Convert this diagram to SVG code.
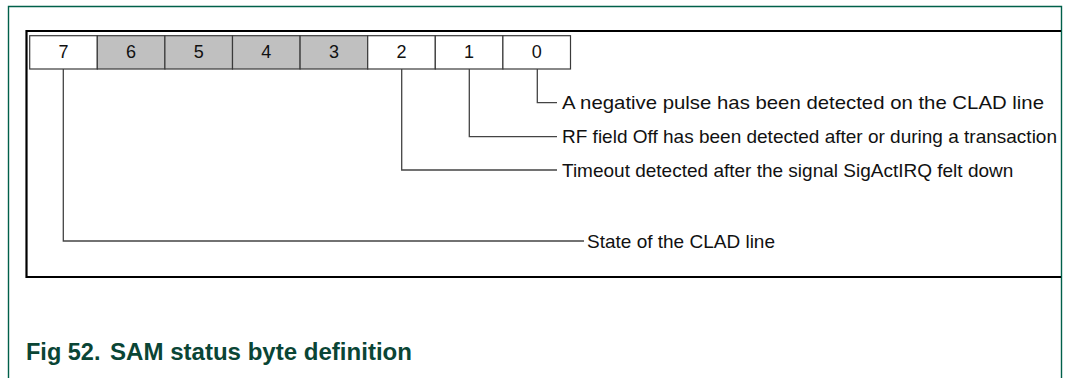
<svg xmlns="http://www.w3.org/2000/svg" width="1069" height="378" viewBox="0 0 1069 378">
<style>
.frame{fill:none;stroke:#00604a;stroke-width:1.4}
.box{fill:none;stroke:#000;stroke-width:2.2}
.cell{stroke:#3a3a3a;stroke-width:1.2}
.w{fill:#fff}
.g{fill:#c0c0c0}
.dig{font-family:"Liberation Sans",Arial,sans-serif;font-size:18px;fill:#111;text-anchor:middle}
.lbl{font-family:"Liberation Sans",Arial,sans-serif;font-size:19px;fill:#111}
.conn{fill:none;stroke:#444;stroke-width:1.3}
.cap{font-family:"Liberation Sans",Arial,sans-serif;font-size:23.5px;font-weight:bold;fill:#0a4535}
</style>
<rect width="1069" height="378" fill="#fff"/>
<path class="frame" d="M8.5,378 V6.5 H1061.5 V378"/>
<path class="box" d="M1061,31 H26.5 V277 H1061"/>
<g id="bit7"><rect class="cell w" x="29.7" y="35.7" width="67.6" height="33.3"/><text class="dig" x="63.5" y="58.3">7</text></g>
<g id="bit6"><rect class="cell g" x="97.3" y="35.7" width="67.6" height="33.3"/><text class="dig" x="131.1" y="58.3">6</text></g>
<g id="bit5"><rect class="cell g" x="164.9" y="35.7" width="67.6" height="33.3"/><text class="dig" x="198.7" y="58.3">5</text></g>
<g id="bit4"><rect class="cell g" x="232.5" y="35.7" width="67.6" height="33.3"/><text class="dig" x="266.3" y="58.3">4</text></g>
<g id="bit3"><rect class="cell g" x="300.1" y="35.7" width="67.6" height="33.3"/><text class="dig" x="333.9" y="58.3">3</text></g>
<g id="bit2"><rect class="cell w" x="367.7" y="35.7" width="67.6" height="33.3"/><text class="dig" x="401.5" y="58.3">2</text></g>
<g id="bit1"><rect class="cell w" x="435.3" y="35.7" width="67.6" height="33.3"/><text class="dig" x="469.1" y="58.3">1</text></g>
<g id="bit0"><rect class="cell w" x="502.9" y="35.7" width="67.6" height="33.3"/><text class="dig" x="536.7" y="58.3">0</text></g>
<g id="connectors">
<path class="conn" d="M537.3,69 V102.7 H557"/>
<path class="conn" d="M469.3,69 V136.7 H557"/>
<path class="conn" d="M401.7,69 V170 H557"/>
<path class="conn" d="M63.3,69 V241 H584"/>
</g>
<g id="labels">
<text class="lbl" x="562" y="109.3" textLength="482" lengthAdjust="spacingAndGlyphs">A negative pulse has been detected on the CLAD line</text>
<text class="lbl" x="562" y="143">RF field Off has been detected after or during a transaction</text>
<text class="lbl" x="562" y="177">Timeout detected after the signal SigActIRQ felt down</text>
<text class="lbl" x="587" y="247.5">State of the CLAD line</text>
</g>
<g id="caption">
<text class="cap" x="26" y="360">Fig 52.</text>
<text class="cap" x="110" y="360" textLength="302" lengthAdjust="spacingAndGlyphs">SAM status byte definition</text>
</g>
</svg>
